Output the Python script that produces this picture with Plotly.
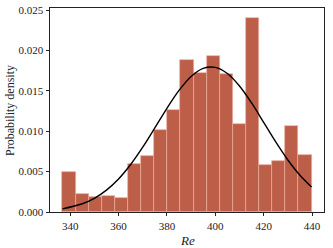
import numpy as np
import plotly.graph_objects as go

# histogram of Re (density), 19 equal bins between the data min and max
re_min, re_max = 336.8, 439.8
density = [0.00491, 0.00223, 0.00186, 0.00202, 0.00169, 0.00595, 0.00690,
           0.01020, 0.01265, 0.01885, 0.01719, 0.01935, 0.01703, 0.01095,
           0.02406, 0.00587, 0.00628, 0.01062, 0.00707]

# fitted normal curve
curve_x = [336.8, 345, 350, 355, 360, 365, 370, 375, 380, 385, 390, 395,
           400, 405, 410, 415, 420, 425, 430, 435, 439.8]
curve_y = [0.00039, 0.00102, 0.00170, 0.00271, 0.00409, 0.00588, 0.00802,
           0.01041, 0.01284, 0.01506, 0.01679, 0.01779, 0.01791, 0.01715,
           0.01560, 0.01350, 0.01110, 0.00867, 0.00644, 0.00455, 0.00310]

x_ticks = [340, 360, 380, 400, 420, 440]
y_ticks = [0.000, 0.005, 0.010, 0.015, 0.020, 0.025]

edges = np.linspace(re_min, re_max, len(density) + 1)
centers = (edges[:-1] + edges[1:]) / 2
bin_w = edges[1] - edges[0]

font = "Liberation Serif, DejaVu Serif, serif"

fig = go.Figure()
fig.add_trace(go.Bar(
    x=centers, y=density, width=bin_w,
    marker=dict(color="#bd5e49", line=dict(color="rgba(235,175,160,0.9)", width=0.7)),
    showlegend=False, hoverinfo="skip",
))
fig.add_trace(go.Scatter(
    x=curve_x, y=curve_y, mode="lines", line=dict(color="black", width=1.4, shape="spline"),
    showlegend=False,
))

axis_common = dict(
    showline=True, linecolor="#222", linewidth=0.9, mirror=True,
    ticks="outside", ticklen=3.5, tickwidth=0.8, tickcolor="#222",
    showgrid=False, zeroline=False, automargin=False,
    tickfont=dict(family=font, size=11, color="#222"),
)

fig.update_layout(
    width=333, height=248,
    margin=dict(l=50, r=9, t=8, b=36),
    plot_bgcolor="white", paper_bgcolor="white",
    bargap=0,
    xaxis=dict(axis_common, range=[331.65, 444.95], tickvals=x_ticks),
    yaxis=dict(axis_common, range=[0, 0.02526], tickvals=y_ticks, tickformat=".3f"),
    annotations=[
        dict(text="<i>Re</i>", xref="paper", yref="paper", x=0.5, y=-0.094,
             xanchor="center", yanchor="top", showarrow=False,
             font=dict(family=font, size=13, color="#222")),
        dict(text="Probability density", xref="paper", yref="paper", x=-0.146, y=0.5,
             xanchor="center", yanchor="middle", textangle=-90, showarrow=False,
             font=dict(family=font, size=12, color="#222")),
    ],
)

# drop the default 8px body margin so the figure fills the window
fig.write_html("out.html", config={"displayModeBar": False},
               post_script="document.body.style.margin='0px';")
